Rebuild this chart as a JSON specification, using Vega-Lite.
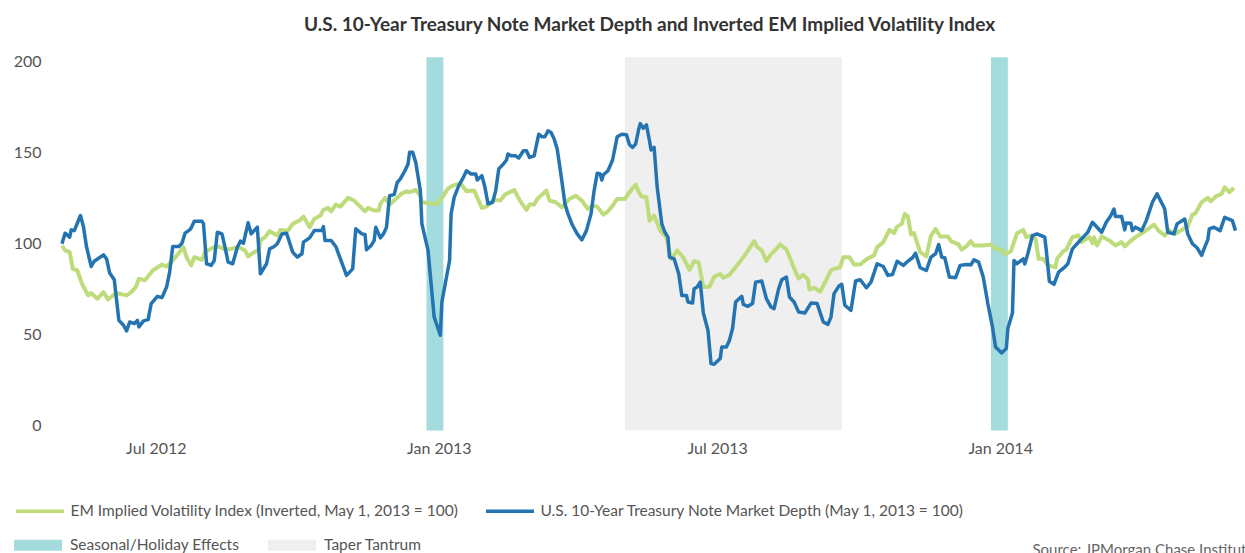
{
  "$schema": "https://vega.github.io/schema/vega-lite/v6.json",
  "width": 1175,
  "height": 364,
  "autosize": {"type": "none"},
  "padding": {"left": 62, "top": 61, "right": 8, "bottom": 128},
  "background": "white",
  "title": {
    "text": "U.S. 10-Year Treasury Note Market Depth and Inverted EM Implied Volatility Index",
    "font": "Lato", "fontSize": 19, "fontWeight": "bold", "color": "#333333",
    "anchor": "middle", "baseline": "alphabetic", "offset": 3
  },
  "config": {
    "view": {"stroke": null},
    "axis": {"grid": false, "ticks": false, "domain": false, "labelFont": "Lato", "labelColor": "#555555", "labelFontSize": 16}
  },
  "datasets": {
    "periods": [
      {"start": "2012-12-24", "end": "2013-01-04", "period": "Seasonal/Holiday Effects"},
      {"start": "2013-05-02", "end": "2013-09-20", "period": "Taper Tantrum"},
      {"start": "2013-12-26", "end": "2014-01-06", "period": "Seasonal/Holiday Effects"}
    ],
    "em": [
      {"date": "2012-05-01", "value": 98.6}, {"date": "2012-05-03", "value": 95.9}, {"date": "2012-05-06", "value": 95.0},
      {"date": "2012-05-08", "value": 85.8}, {"date": "2012-05-11", "value": 84.9}, {"date": "2012-05-14", "value": 77.6},
      {"date": "2012-05-18", "value": 71.2}, {"date": "2012-05-20", "value": 72.5}, {"date": "2012-05-24", "value": 69.4},
      {"date": "2012-05-28", "value": 73.0}, {"date": "2012-05-31", "value": 68.9}, {"date": "2012-06-05", "value": 72.5},
      {"date": "2012-06-09", "value": 71.8}, {"date": "2012-06-12", "value": 71.2}, {"date": "2012-06-15", "value": 73.0},
      {"date": "2012-06-18", "value": 75.8}, {"date": "2012-06-20", "value": 80.4}, {"date": "2012-06-24", "value": 79.5},
      {"date": "2012-06-29", "value": 84.9}, {"date": "2012-07-05", "value": 88.2}, {"date": "2012-07-08", "value": 87.1},
      {"date": "2012-07-12", "value": 90.4}, {"date": "2012-07-19", "value": 97.7}, {"date": "2012-07-21", "value": 92.2},
      {"date": "2012-07-24", "value": 87.7}, {"date": "2012-07-26", "value": 92.2}, {"date": "2012-07-31", "value": 90.8},
      {"date": "2012-08-02", "value": 95.0}, {"date": "2012-08-07", "value": 97.4}, {"date": "2012-08-11", "value": 98.1},
      {"date": "2012-08-15", "value": 96.3}, {"date": "2012-08-19", "value": 96.8}, {"date": "2012-08-24", "value": 97.7},
      {"date": "2012-08-28", "value": 95.9}, {"date": "2012-08-30", "value": 92.6}, {"date": "2012-09-03", "value": 95.0},
      {"date": "2012-09-06", "value": 96.3}, {"date": "2012-09-07", "value": 101.4}, {"date": "2012-09-10", "value": 103.2},
      {"date": "2012-09-13", "value": 106.5}, {"date": "2012-09-18", "value": 104.1}, {"date": "2012-09-20", "value": 107.2},
      {"date": "2012-09-25", "value": 106.8}, {"date": "2012-09-28", "value": 110.5}, {"date": "2012-10-03", "value": 112.7},
      {"date": "2012-10-05", "value": 114.5}, {"date": "2012-10-09", "value": 108.7}, {"date": "2012-10-12", "value": 113.2},
      {"date": "2012-10-16", "value": 115.1}, {"date": "2012-10-18", "value": 118.2}, {"date": "2012-10-21", "value": 119.3},
      {"date": "2012-10-23", "value": 117.4}, {"date": "2012-10-26", "value": 121.1}, {"date": "2012-10-29", "value": 120.0},
      {"date": "2012-11-03", "value": 124.8}, {"date": "2012-11-07", "value": 123.3}, {"date": "2012-11-14", "value": 117.4},
      {"date": "2012-11-16", "value": 119.3}, {"date": "2012-11-20", "value": 117.8}, {"date": "2012-11-23", "value": 117.8},
      {"date": "2012-11-24", "value": 121.5}, {"date": "2012-11-27", "value": 124.8}, {"date": "2012-11-30", "value": 121.1},
      {"date": "2012-12-03", "value": 123.3}, {"date": "2012-12-08", "value": 127.3}, {"date": "2012-12-11", "value": 128.4},
      {"date": "2012-12-13", "value": 127.9}, {"date": "2012-12-17", "value": 129.1}, {"date": "2012-12-20", "value": 126.0},
      {"date": "2012-12-21", "value": 122.4}, {"date": "2012-12-26", "value": 121.8}, {"date": "2012-12-31", "value": 121.5},
      {"date": "2013-01-04", "value": 126.0}, {"date": "2013-01-07", "value": 130.0}, {"date": "2013-01-10", "value": 131.5},
      {"date": "2013-01-15", "value": 132.8}, {"date": "2013-01-19", "value": 128.4}, {"date": "2013-01-24", "value": 128.8},
      {"date": "2013-01-29", "value": 119.3}, {"date": "2013-02-01", "value": 120.0}, {"date": "2013-02-04", "value": 122.4},
      {"date": "2013-02-06", "value": 123.7}, {"date": "2013-02-10", "value": 123.3}, {"date": "2013-02-13", "value": 126.6},
      {"date": "2013-02-19", "value": 129.1}, {"date": "2013-02-23", "value": 122.9}, {"date": "2013-02-27", "value": 118.2},
      {"date": "2013-03-01", "value": 121.1}, {"date": "2013-03-04", "value": 121.1}, {"date": "2013-03-06", "value": 124.2},
      {"date": "2013-03-12", "value": 128.8}, {"date": "2013-03-14", "value": 123.3}, {"date": "2013-03-18", "value": 122.4},
      {"date": "2013-03-22", "value": 119.6}, {"date": "2013-03-27", "value": 124.2}, {"date": "2013-03-31", "value": 126.0},
      {"date": "2013-04-04", "value": 123.3}, {"date": "2013-04-08", "value": 118.7}, {"date": "2013-04-11", "value": 120.5},
      {"date": "2013-04-14", "value": 120.0}, {"date": "2013-04-18", "value": 115.6}, {"date": "2013-04-21", "value": 117.4},
      {"date": "2013-04-24", "value": 120.5}, {"date": "2013-04-27", "value": 124.2}, {"date": "2013-05-02", "value": 124.2},
      {"date": "2013-05-05", "value": 127.9}, {"date": "2013-05-09", "value": 132.1}, {"date": "2013-05-11", "value": 127.9},
      {"date": "2013-05-13", "value": 125.5}, {"date": "2013-05-16", "value": 125.1}, {"date": "2013-05-18", "value": 112.3},
      {"date": "2013-05-21", "value": 115.1}, {"date": "2013-05-25", "value": 106.8}, {"date": "2013-05-29", "value": 103.0},
      {"date": "2013-06-01", "value": 91.3}, {"date": "2013-06-03", "value": 93.2}, {"date": "2013-06-05", "value": 95.9},
      {"date": "2013-06-09", "value": 92.0}, {"date": "2013-06-13", "value": 85.3}, {"date": "2013-06-16", "value": 90.0},
      {"date": "2013-06-19", "value": 89.2}, {"date": "2013-06-22", "value": 75.8}, {"date": "2013-06-26", "value": 76.0},
      {"date": "2013-06-29", "value": 81.4}, {"date": "2013-07-03", "value": 83.0}, {"date": "2013-07-05", "value": 80.9},
      {"date": "2013-07-09", "value": 82.5}, {"date": "2013-07-13", "value": 86.7}, {"date": "2013-07-19", "value": 93.2},
      {"date": "2013-07-25", "value": 101.0}, {"date": "2013-07-27", "value": 97.8}, {"date": "2013-07-30", "value": 95.9},
      {"date": "2013-08-02", "value": 90.2}, {"date": "2013-08-05", "value": 93.9}, {"date": "2013-08-08", "value": 96.3},
      {"date": "2013-08-11", "value": 99.2}, {"date": "2013-08-15", "value": 96.5}, {"date": "2013-08-18", "value": 90.4},
      {"date": "2013-08-21", "value": 84.0}, {"date": "2013-08-23", "value": 80.5}, {"date": "2013-08-26", "value": 82.5},
      {"date": "2013-08-29", "value": 80.0}, {"date": "2013-08-30", "value": 74.5}, {"date": "2013-09-02", "value": 75.4},
      {"date": "2013-09-06", "value": 73.3}, {"date": "2013-09-10", "value": 79.8}, {"date": "2013-09-13", "value": 84.9},
      {"date": "2013-09-15", "value": 85.8}, {"date": "2013-09-19", "value": 86.7}, {"date": "2013-09-21", "value": 92.2},
      {"date": "2013-09-25", "value": 92.2}, {"date": "2013-09-28", "value": 88.2}, {"date": "2013-10-02", "value": 88.2},
      {"date": "2013-10-06", "value": 91.0}, {"date": "2013-10-11", "value": 93.2}, {"date": "2013-10-13", "value": 97.7},
      {"date": "2013-10-17", "value": 100.5}, {"date": "2013-10-21", "value": 107.2}, {"date": "2013-10-24", "value": 105.4},
      {"date": "2013-10-26", "value": 109.0}, {"date": "2013-10-29", "value": 110.5}, {"date": "2013-10-31", "value": 116.0},
      {"date": "2013-11-02", "value": 114.5}, {"date": "2013-11-04", "value": 104.7}, {"date": "2013-11-06", "value": 105.4},
      {"date": "2013-11-10", "value": 95.0}, {"date": "2013-11-14", "value": 92.6}, {"date": "2013-11-17", "value": 104.1},
      {"date": "2013-11-20", "value": 107.8}, {"date": "2013-11-23", "value": 103.6}, {"date": "2013-11-28", "value": 103.6},
      {"date": "2013-11-30", "value": 101.0}, {"date": "2013-12-05", "value": 99.2}, {"date": "2013-12-07", "value": 96.3},
      {"date": "2013-12-10", "value": 98.1}, {"date": "2013-12-13", "value": 101.0}, {"date": "2013-12-15", "value": 98.6},
      {"date": "2013-12-21", "value": 98.6}, {"date": "2013-12-26", "value": 99.2}, {"date": "2013-12-29", "value": 96.8},
      {"date": "2014-01-02", "value": 96.3}, {"date": "2014-01-04", "value": 93.7}, {"date": "2014-01-08", "value": 95.5},
      {"date": "2014-01-12", "value": 105.4}, {"date": "2014-01-16", "value": 107.2}, {"date": "2014-01-18", "value": 103.2},
      {"date": "2014-01-21", "value": 104.1}, {"date": "2014-01-24", "value": 102.3}, {"date": "2014-01-26", "value": 91.3},
      {"date": "2014-01-29", "value": 91.3}, {"date": "2014-02-01", "value": 87.7}, {"date": "2014-02-06", "value": 86.7},
      {"date": "2014-02-07", "value": 91.3}, {"date": "2014-02-11", "value": 95.5}, {"date": "2014-02-13", "value": 96.3},
      {"date": "2014-02-17", "value": 103.2}, {"date": "2014-02-21", "value": 104.1}, {"date": "2014-02-23", "value": 100.5},
      {"date": "2014-02-28", "value": 103.2}, {"date": "2014-03-02", "value": 99.9}, {"date": "2014-03-03", "value": 103.2},
      {"date": "2014-03-05", "value": 98.6}, {"date": "2014-03-08", "value": 103.6}, {"date": "2014-03-13", "value": 101.4},
      {"date": "2014-03-17", "value": 98.6}, {"date": "2014-03-21", "value": 100.5}, {"date": "2014-03-23", "value": 98.1},
      {"date": "2014-03-26", "value": 100.5}, {"date": "2014-03-30", "value": 103.2}, {"date": "2014-04-04", "value": 105.9},
      {"date": "2014-04-11", "value": 110.1}, {"date": "2014-04-14", "value": 106.8}, {"date": "2014-04-18", "value": 104.1},
      {"date": "2014-04-21", "value": 106.8}, {"date": "2014-04-25", "value": 105.0}, {"date": "2014-04-29", "value": 107.2},
      {"date": "2014-05-03", "value": 109.0}, {"date": "2014-05-06", "value": 115.6}, {"date": "2014-05-08", "value": 116.3},
      {"date": "2014-05-12", "value": 122.4}, {"date": "2014-05-16", "value": 124.8}, {"date": "2014-05-18", "value": 122.9},
      {"date": "2014-05-21", "value": 125.5}, {"date": "2014-05-25", "value": 127.0}, {"date": "2014-05-27", "value": 130.6},
      {"date": "2014-05-30", "value": 127.9}, {"date": "2014-06-02", "value": 130.2}
    ],
    "ust": [
      {"date": "2012-05-01", "value": 99.6}, {"date": "2012-05-03", "value": 105.4}, {"date": "2012-05-06", "value": 103.2},
      {"date": "2012-05-07", "value": 107.2}, {"date": "2012-05-09", "value": 106.8}, {"date": "2012-05-13", "value": 115.1},
      {"date": "2012-05-15", "value": 108.7}, {"date": "2012-05-17", "value": 97.7}, {"date": "2012-05-20", "value": 87.1},
      {"date": "2012-05-22", "value": 90.0}, {"date": "2012-05-28", "value": 93.5}, {"date": "2012-05-30", "value": 91.3},
      {"date": "2012-06-01", "value": 83.5}, {"date": "2012-06-04", "value": 79.8}, {"date": "2012-06-05", "value": 72.2},
      {"date": "2012-06-07", "value": 57.5}, {"date": "2012-06-10", "value": 54.8}, {"date": "2012-06-12", "value": 51.7},
      {"date": "2012-06-14", "value": 56.6}, {"date": "2012-06-17", "value": 55.7}, {"date": "2012-06-19", "value": 57.5},
      {"date": "2012-06-20", "value": 53.9}, {"date": "2012-06-23", "value": 57.2}, {"date": "2012-06-26", "value": 57.9},
      {"date": "2012-06-28", "value": 66.7}, {"date": "2012-07-02", "value": 70.7}, {"date": "2012-07-05", "value": 70.0},
      {"date": "2012-07-08", "value": 75.8}, {"date": "2012-07-10", "value": 84.0}, {"date": "2012-07-12", "value": 98.1},
      {"date": "2012-07-16", "value": 98.1}, {"date": "2012-07-18", "value": 99.9}, {"date": "2012-07-20", "value": 105.4},
      {"date": "2012-07-23", "value": 107.2}, {"date": "2012-07-24", "value": 108.3}, {"date": "2012-07-26", "value": 112.0},
      {"date": "2012-07-31", "value": 112.0}, {"date": "2012-08-01", "value": 110.5}, {"date": "2012-08-03", "value": 88.6},
      {"date": "2012-08-06", "value": 87.7}, {"date": "2012-08-08", "value": 90.4}, {"date": "2012-08-10", "value": 105.9},
      {"date": "2012-08-13", "value": 105.0}, {"date": "2012-08-15", "value": 97.7}, {"date": "2012-08-17", "value": 89.5},
      {"date": "2012-08-20", "value": 88.6}, {"date": "2012-08-23", "value": 97.7}, {"date": "2012-08-25", "value": 101.0},
      {"date": "2012-08-27", "value": 99.9}, {"date": "2012-08-30", "value": 111.1}, {"date": "2012-09-01", "value": 105.0},
      {"date": "2012-09-05", "value": 108.7}, {"date": "2012-09-07", "value": 83.1}, {"date": "2012-09-11", "value": 88.6},
      {"date": "2012-09-13", "value": 96.8}, {"date": "2012-09-16", "value": 98.1}, {"date": "2012-09-18", "value": 99.6},
      {"date": "2012-09-21", "value": 105.0}, {"date": "2012-09-24", "value": 105.4}, {"date": "2012-09-28", "value": 95.0},
      {"date": "2012-10-01", "value": 92.2}, {"date": "2012-10-04", "value": 94.1}, {"date": "2012-10-05", "value": 100.5},
      {"date": "2012-10-09", "value": 102.8}, {"date": "2012-10-12", "value": 106.8}, {"date": "2012-10-17", "value": 106.8},
      {"date": "2012-10-18", "value": 109.0}, {"date": "2012-10-19", "value": 101.4}, {"date": "2012-10-23", "value": 101.4},
      {"date": "2012-10-26", "value": 98.1}, {"date": "2012-11-02", "value": 82.2}, {"date": "2012-11-06", "value": 85.8},
      {"date": "2012-11-08", "value": 107.8}, {"date": "2012-11-12", "value": 105.0}, {"date": "2012-11-14", "value": 104.7},
      {"date": "2012-11-15", "value": 96.3}, {"date": "2012-11-18", "value": 98.6}, {"date": "2012-11-20", "value": 101.4},
      {"date": "2012-11-21", "value": 108.7}, {"date": "2012-11-24", "value": 102.8}, {"date": "2012-11-26", "value": 105.0},
      {"date": "2012-11-28", "value": 108.7}, {"date": "2012-11-30", "value": 126.0}, {"date": "2012-12-03", "value": 126.6},
      {"date": "2012-12-05", "value": 133.3}, {"date": "2012-12-07", "value": 135.2}, {"date": "2012-12-10", "value": 139.7},
      {"date": "2012-12-12", "value": 143.4}, {"date": "2012-12-13", "value": 149.8}, {"date": "2012-12-15", "value": 149.8},
      {"date": "2012-12-17", "value": 144.3}, {"date": "2012-12-20", "value": 128.8}, {"date": "2012-12-21", "value": 110.5},
      {"date": "2012-12-25", "value": 95.9}, {"date": "2012-12-29", "value": 59.3}, {"date": "2013-01-02", "value": 49.3},
      {"date": "2013-01-03", "value": 67.6}, {"date": "2013-01-08", "value": 90.4}, {"date": "2013-01-09", "value": 116.0},
      {"date": "2013-01-11", "value": 125.1}, {"date": "2013-01-14", "value": 131.5}, {"date": "2013-01-17", "value": 136.1},
      {"date": "2013-01-19", "value": 139.7}, {"date": "2013-01-22", "value": 137.9}, {"date": "2013-01-25", "value": 137.9},
      {"date": "2013-01-26", "value": 134.6}, {"date": "2013-01-29", "value": 137.0}, {"date": "2013-01-31", "value": 130.6},
      {"date": "2013-02-02", "value": 121.5}, {"date": "2013-02-05", "value": 122.4}, {"date": "2013-02-07", "value": 128.8},
      {"date": "2013-02-09", "value": 140.7}, {"date": "2013-02-12", "value": 143.4}, {"date": "2013-02-14", "value": 145.6},
      {"date": "2013-02-15", "value": 148.9}, {"date": "2013-02-17", "value": 147.9}, {"date": "2013-02-20", "value": 147.9},
      {"date": "2013-02-22", "value": 146.7}, {"date": "2013-02-25", "value": 150.7}, {"date": "2013-02-27", "value": 150.7},
      {"date": "2013-03-01", "value": 147.0}, {"date": "2013-03-04", "value": 147.9}, {"date": "2013-03-07", "value": 159.8},
      {"date": "2013-03-09", "value": 158.4}, {"date": "2013-03-11", "value": 158.4}, {"date": "2013-03-13", "value": 161.6},
      {"date": "2013-03-15", "value": 160.7}, {"date": "2013-03-17", "value": 157.1}, {"date": "2013-03-19", "value": 151.6},
      {"date": "2013-03-22", "value": 134.2}, {"date": "2013-03-24", "value": 121.5}, {"date": "2013-03-26", "value": 116.0},
      {"date": "2013-03-29", "value": 109.6}, {"date": "2013-04-01", "value": 105.0}, {"date": "2013-04-04", "value": 101.7},
      {"date": "2013-04-07", "value": 106.8}, {"date": "2013-04-10", "value": 116.0}, {"date": "2013-04-12", "value": 128.8},
      {"date": "2013-04-14", "value": 138.3}, {"date": "2013-04-16", "value": 137.9}, {"date": "2013-04-17", "value": 134.6},
      {"date": "2013-04-18", "value": 137.5}, {"date": "2013-04-21", "value": 139.7}, {"date": "2013-04-24", "value": 145.6},
      {"date": "2013-04-27", "value": 158.4}, {"date": "2013-04-30", "value": 159.8}, {"date": "2013-05-03", "value": 159.5},
      {"date": "2013-05-05", "value": 154.0}, {"date": "2013-05-07", "value": 152.5}, {"date": "2013-05-09", "value": 154.4},
      {"date": "2013-05-11", "value": 162.6}, {"date": "2013-05-12", "value": 165.6}, {"date": "2013-05-14", "value": 163.1},
      {"date": "2013-05-16", "value": 164.9}, {"date": "2013-05-18", "value": 156.2}, {"date": "2013-05-19", "value": 151.1},
      {"date": "2013-05-21", "value": 152.5}, {"date": "2013-05-23", "value": 130.6}, {"date": "2013-05-26", "value": 110.5},
      {"date": "2013-05-28", "value": 105.9}, {"date": "2013-05-30", "value": 103.2}, {"date": "2013-05-31", "value": 92.2},
      {"date": "2013-06-03", "value": 91.3}, {"date": "2013-06-06", "value": 83.1}, {"date": "2013-06-08", "value": 71.2},
      {"date": "2013-06-11", "value": 71.2}, {"date": "2013-06-12", "value": 67.6}, {"date": "2013-06-15", "value": 67.0},
      {"date": "2013-06-16", "value": 74.9}, {"date": "2013-06-18", "value": 75.8}, {"date": "2013-06-20", "value": 78.5},
      {"date": "2013-06-22", "value": 61.5}, {"date": "2013-06-25", "value": 52.1}, {"date": "2013-06-27", "value": 33.8},
      {"date": "2013-06-29", "value": 33.4}, {"date": "2013-07-03", "value": 36.5}, {"date": "2013-07-04", "value": 42.9},
      {"date": "2013-07-07", "value": 42.9}, {"date": "2013-07-09", "value": 46.6}, {"date": "2013-07-11", "value": 53.0},
      {"date": "2013-07-13", "value": 67.6}, {"date": "2013-07-17", "value": 70.7}, {"date": "2013-07-18", "value": 66.3},
      {"date": "2013-07-21", "value": 65.2}, {"date": "2013-07-24", "value": 66.7}, {"date": "2013-07-26", "value": 78.5},
      {"date": "2013-07-30", "value": 79.1}, {"date": "2013-08-02", "value": 69.4}, {"date": "2013-08-05", "value": 64.8},
      {"date": "2013-08-07", "value": 63.9}, {"date": "2013-08-10", "value": 74.9}, {"date": "2013-08-12", "value": 79.8},
      {"date": "2013-08-15", "value": 81.3}, {"date": "2013-08-17", "value": 70.3}, {"date": "2013-08-20", "value": 67.6},
      {"date": "2013-08-23", "value": 62.1}, {"date": "2013-08-27", "value": 61.5}, {"date": "2013-08-31", "value": 67.0},
      {"date": "2013-09-04", "value": 66.7}, {"date": "2013-09-08", "value": 56.6}, {"date": "2013-09-11", "value": 55.3},
      {"date": "2013-09-13", "value": 59.3}, {"date": "2013-09-15", "value": 72.2}, {"date": "2013-09-18", "value": 76.2},
      {"date": "2013-09-20", "value": 77.3}, {"date": "2013-09-22", "value": 65.8}, {"date": "2013-09-26", "value": 63.0},
      {"date": "2013-09-29", "value": 79.1}, {"date": "2013-10-02", "value": 79.8}, {"date": "2013-10-06", "value": 75.4},
      {"date": "2013-10-09", "value": 78.5}, {"date": "2013-10-13", "value": 88.6}, {"date": "2013-10-17", "value": 87.1},
      {"date": "2013-10-20", "value": 82.2}, {"date": "2013-10-23", "value": 82.7}, {"date": "2013-10-26", "value": 90.0},
      {"date": "2013-10-30", "value": 87.7}, {"date": "2013-11-02", "value": 90.0}, {"date": "2013-11-05", "value": 91.9},
      {"date": "2013-11-07", "value": 94.4}, {"date": "2013-11-10", "value": 86.4}, {"date": "2013-11-14", "value": 84.9},
      {"date": "2013-11-17", "value": 92.2}, {"date": "2013-11-20", "value": 94.1}, {"date": "2013-11-22", "value": 99.2},
      {"date": "2013-11-24", "value": 92.2}, {"date": "2013-11-26", "value": 91.9}, {"date": "2013-11-29", "value": 81.3},
      {"date": "2013-12-03", "value": 80.9}, {"date": "2013-12-06", "value": 87.7}, {"date": "2013-12-10", "value": 88.2},
      {"date": "2013-12-13", "value": 88.0}, {"date": "2013-12-15", "value": 90.8}, {"date": "2013-12-18", "value": 89.5},
      {"date": "2013-12-21", "value": 81.3}, {"date": "2013-12-24", "value": 66.7}, {"date": "2013-12-27", "value": 53.9},
      {"date": "2013-12-29", "value": 42.9}, {"date": "2014-01-02", "value": 39.6}, {"date": "2014-01-05", "value": 42.0},
      {"date": "2014-01-06", "value": 53.0}, {"date": "2014-01-09", "value": 61.5}, {"date": "2014-01-10", "value": 90.4},
      {"date": "2014-01-12", "value": 88.6}, {"date": "2014-01-16", "value": 91.3}, {"date": "2014-01-17", "value": 88.5},
      {"date": "2014-01-19", "value": 94.1}, {"date": "2014-01-22", "value": 104.1}, {"date": "2014-01-25", "value": 105.0},
      {"date": "2014-01-30", "value": 103.2}, {"date": "2014-01-31", "value": 96.0}, {"date": "2014-02-02", "value": 79.0},
      {"date": "2014-02-05", "value": 77.3}, {"date": "2014-02-08", "value": 84.0}, {"date": "2014-02-12", "value": 86.7},
      {"date": "2014-02-14", "value": 88.6}, {"date": "2014-02-17", "value": 96.8}, {"date": "2014-02-20", "value": 99.6},
      {"date": "2014-02-24", "value": 103.2}, {"date": "2014-02-27", "value": 105.9}, {"date": "2014-03-02", "value": 111.4},
      {"date": "2014-03-08", "value": 105.9}, {"date": "2014-03-11", "value": 111.4}, {"date": "2014-03-14", "value": 115.1},
      {"date": "2014-03-16", "value": 118.7}, {"date": "2014-03-17", "value": 114.5}, {"date": "2014-03-21", "value": 114.5},
      {"date": "2014-03-23", "value": 107.2}, {"date": "2014-03-24", "value": 111.0}, {"date": "2014-03-27", "value": 110.9},
      {"date": "2014-03-28", "value": 106.8}, {"date": "2014-03-30", "value": 108.7}, {"date": "2014-04-03", "value": 106.8},
      {"date": "2014-04-06", "value": 112.3}, {"date": "2014-04-10", "value": 122.4}, {"date": "2014-04-13", "value": 127.0},
      {"date": "2014-04-17", "value": 120.5}, {"date": "2014-04-18", "value": 118.7}, {"date": "2014-04-20", "value": 105.9},
      {"date": "2014-04-24", "value": 105.0}, {"date": "2014-04-26", "value": 110.5}, {"date": "2014-05-01", "value": 113.2},
      {"date": "2014-05-03", "value": 105.0}, {"date": "2014-05-06", "value": 99.6}, {"date": "2014-05-09", "value": 97.4},
      {"date": "2014-05-12", "value": 93.2}, {"date": "2014-05-14", "value": 97.7}, {"date": "2014-05-16", "value": 101.7},
      {"date": "2014-05-17", "value": 107.8}, {"date": "2014-05-20", "value": 108.7}, {"date": "2014-05-24", "value": 106.8},
      {"date": "2014-05-27", "value": 114.1}, {"date": "2014-06-01", "value": 112.3}, {"date": "2014-06-03", "value": 106.8}
    ]
  },
  "layer": [
    {
      "data": {"name": "periods"},
      "mark": {"type": "rect"},
      "encoding": {
        "x": {
          "field": "start", "type": "temporal",
          "scale": {"type": "utc", "domain": [{"year": 2012, "month": 5, "date": 1, "utc": true}, {"year": 2014, "month": 6, "date": 4, "utc": true}]},
          "axis": {
            "values": [{"year": 2012, "month": 7, "date": 1, "utc": true}, {"year": 2013, "month": 1, "date": 1, "utc": true}, {"year": 2013, "month": 7, "date": 1, "utc": true}, {"year": 2014, "month": 1, "date": 1, "utc": true}],
            "format": "%b %Y", "labelPadding": 15,
            "title": "Source: JPMorgan Chase Institute",
            "titleX": 970, "titleY": 117, "titleAlign": "left", "titleAnchor": "start", "titleBaseline": "top",
            "titleFont": "Lato", "titleFontSize": 15, "titleFontWeight": "normal", "titleColor": "#666666"
          }
        },
        "x2": {"field": "end"},
        "y": {
          "datum": 202, "type": "quantitative",
          "scale": {"domain": [0, 200]},
          "axis": {"values": [0, 50, 100, 150, 200], "labelPadding": 21, "title": null}
        },
        "y2": {"datum": -3},
        "fill": {
          "field": "period", "type": "nominal",
          "scale": {"domain": ["Seasonal/Holiday Effects", "Taper Tantrum"], "range": ["#a4dcde", "#efefef"]},
          "legend": {
            "orient": "none", "legendX": -48, "legendY": 460, "direction": "horizontal", "title": null, "padding": 0,
            "symbolType": "M-1,-0.23H1V0.23H-1Z", "symbolSize": 2304, "symbolStrokeWidth": 0,
            "labelOffset": 8, "columnPadding": 28, "labelLimit": 0, "labelFont": "Lato", "labelFontSize": 15.5, "labelColor": "#555555"
          }
        }
      }
    },
    {
      "data": {"name": "em"},
      "mark": {"type": "line", "strokeWidth": 4, "strokeJoin": "round"},
      "encoding": {
        "x": {"field": "date", "type": "temporal", "title": "Source: JPMorgan Chase Institute"},
        "y": {"field": "value", "type": "quantitative", "title": null},
        "color": {
          "datum": "EM Implied Volatility Index (Inverted, May 1, 2013 = 100)",
          "scale": {"domain": ["EM Implied Volatility Index (Inverted, May 1, 2013 = 100)", "U.S. 10-Year Treasury Note Market Depth (May 1, 2013 = 100)"], "range": ["#bedc7b", "#2474b2"]},
          "legend": {
            "orient": "none", "legendX": -48, "legendY": 424, "direction": "horizontal", "title": null, "padding": 0,
            "symbolType": "stroke", "symbolSize": 2304, "symbolStrokeWidth": 3.5,
            "labelOffset": 4.5, "columnPadding": 19, "labelLimit": 0, "labelFont": "Lato", "labelFontSize": 15.5, "labelColor": "#555555"
          }
        }
      }
    },
    {
      "data": {"name": "ust"},
      "mark": {"type": "line", "strokeWidth": 3.5, "strokeJoin": "round"},
      "encoding": {
        "x": {"field": "date", "type": "temporal", "title": "Source: JPMorgan Chase Institute"},
        "y": {"field": "value", "type": "quantitative", "title": null},
        "color": {"datum": "U.S. 10-Year Treasury Note Market Depth (May 1, 2013 = 100)"}
      }
    }
  ]
}
